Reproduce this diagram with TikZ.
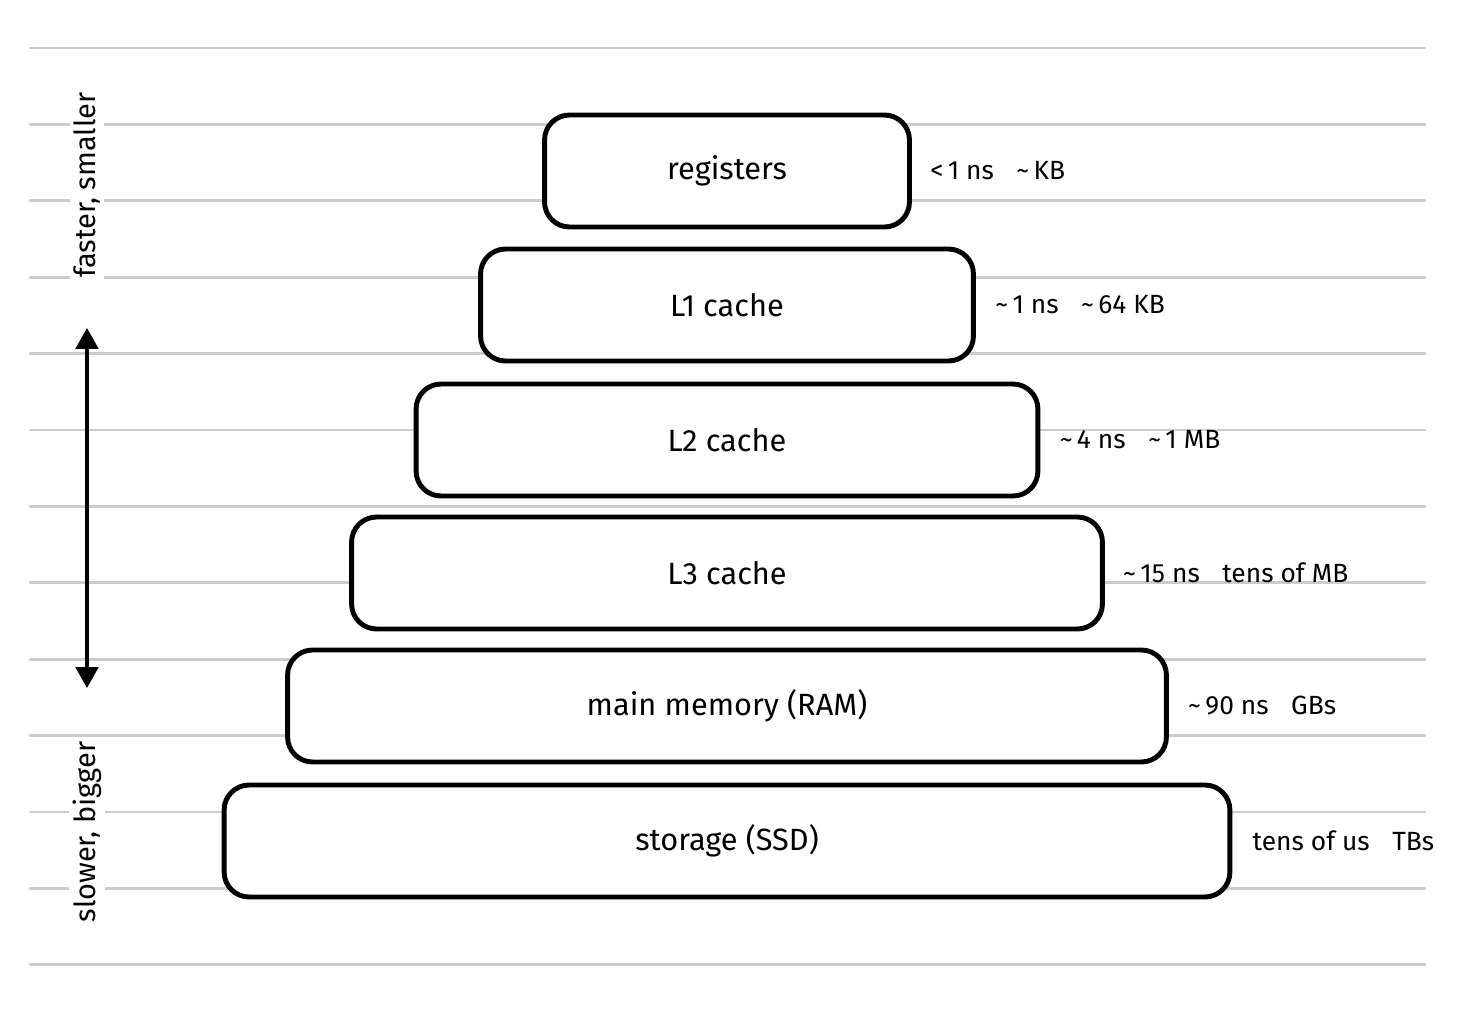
\documentclass[tikz,border=0pt]{standalone}
\usepackage{fontspec}
\setmainfont{Fira Sans}
\usetikzlibrary{positioning, arrows.meta}

\begin{document}
\begin{tikzpicture}[
    x=0.02cm, y=-0.02cm,
    font=\fontsize{17.5}{21}\selectfont,
    >={Triangle[width=0.45cm, length=0.42cm]},
    % --- Styles ---
    ruleline/.style={draw=black!20, line width=1.6pt, line cap=round},
    level/.style={draw=black, fill=white, line width=2.8pt, rounded corners=0.5cm, minimum height=2.24cm, inner sep=0pt, anchor=center},
    spec/.style={anchor=west, inner sep=0pt, font=\fontsize{15}{18}\selectfont},
    side/.style={fill=white, rotate=90, inner sep=2pt, font=\fontsize{16.5}{20}\selectfont},
    arrow_black/.style={<->, line width=2.2pt}
]

    % --- page size ---
    \useasboundingbox (0,0) rectangle (1465,1014);

    % ==========================
    % 1. RULED PAPER LINES
    % ==========================
    \foreach \k in {0,...,12} {
        \draw[ruleline] (30, 48+76.4*\k) -- (1425, 48+76.4*\k);
    }

    % ==========================
    % 2. MEMORY LEVELS
    % ==========================
    \node[level, minimum width=7.3cm] (reg) at (727, 171) {registers};
    \node[level, minimum width=9.86cm] (lone) at (727, 305) {L1 cache};
    \node[level, minimum width=12.44cm] (ltwo) at (727, 440) {L2 cache};
    \node[level, minimum width=15.02cm] (lthree) at (727, 573) {L3 cache};
    \node[level, minimum width=17.58cm] (ram) at (727, 706) {main memory (RAM)};
    \node[level, minimum width=20.12cm] (ssd) at (727, 841) {storage (SSD)};

    % ==========================
    % 3. LATENCY / SIZE
    % ==========================
    \node[spec, right=0.36cm of reg] (reg_t) {<\,1 ns\hspace{0.45cm}\textasciitilde\,KB};
    \node[spec, right=0.38cm of lone] (lone_t) {\textasciitilde\,1 ns\hspace{0.45cm}\textasciitilde\,64 KB};
    \node[spec, right=0.38cm of ltwo] (ltwo_t) {\textasciitilde\,4 ns\hspace{0.45cm}\textasciitilde\,1 MB};
    \node[spec, right=0.36cm of lthree] (lthree_t) {\textasciitilde\,15 ns\hspace{0.45cm}tens of MB};
    \node[spec, right=0.38cm of ram] (ram_t) {\textasciitilde\,90 ns\hspace{0.45cm}GBs};
    \node[spec, right=0.40cm of ssd] (ssd_t) {tens of us\hspace{0.45cm}TBs};

    % ==========================
    % 4. SIDE ARROW
    % ==========================
    \node[side] (fast) at (87, 185) {faster, smaller};
    \node[side] (slow) at (87, 832) {slower, bigger};

    \coordinate (arr_top) at (87, 328);
    \coordinate (arr_bot) at (87, 688);
    \draw[arrow_black] (arr_top) -- (arr_bot);

\end{tikzpicture}
\end{document}
